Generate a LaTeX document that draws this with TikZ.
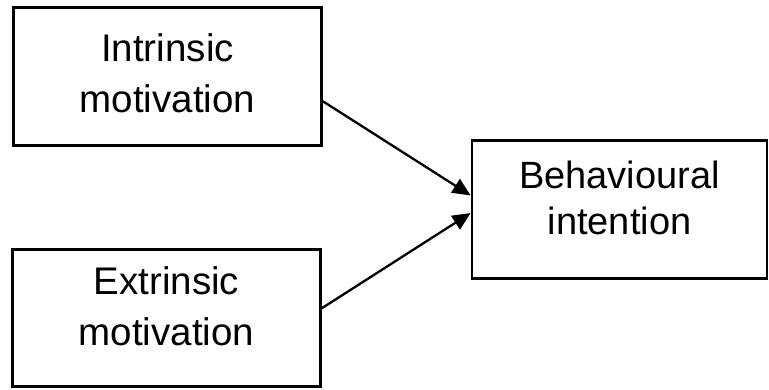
\documentclass[tikz,border=0pt]{standalone}
\usepackage{fontspec}
\setmainfont{Liberation Sans}
\usetikzlibrary{arrows.meta,calc}
\begin{document}
\begin{tikzpicture}[x=1pt,y=-1pt,
  box/.style={draw,line width=2.8pt,rectangle,inner sep=0pt},
  lbl/.style={inner sep=0pt,align=center,font=\fontsize{38.5}{51}\selectfont},
  conn/.style={line width=2.3pt,-{Triangle[length=18pt,width=16pt]}}]
\useasboundingbox (0,0) rectangle (769,389);
\node[box,minimum width=308pt,minimum height=138pt] (b1) at (167.5,76.5) {};
\node[box,minimum width=308pt,minimum height=137pt] (b2) at (166.5,318) {};
\node[box,minimum width=295pt,minimum height=138pt] (b3) at (619.5,209.5) {};
\node[lbl,yshift=3pt] (t1) at (b1.center) {Intrinsic\\motivation};
\node[lbl,yshift=12pt] (t2) at (b2.center) {Extrinsic\\motivation};
\node[lbl,yshift=12pt,font=\fontsize{38}{46}\selectfont] (t3) at (b3.center) {Behavioural\\intention};
\draw[conn] ($(b1.north east)!0.676!(b1.south east)$) -- ($(b3.north west)!0.40!(b3.south west)$);
\draw[conn] ($(b2.north east)!0.43!(b2.south east)$) -- ($(b3.north west)!0.525!(b3.south west)$);
\end{tikzpicture}
\end{document}
